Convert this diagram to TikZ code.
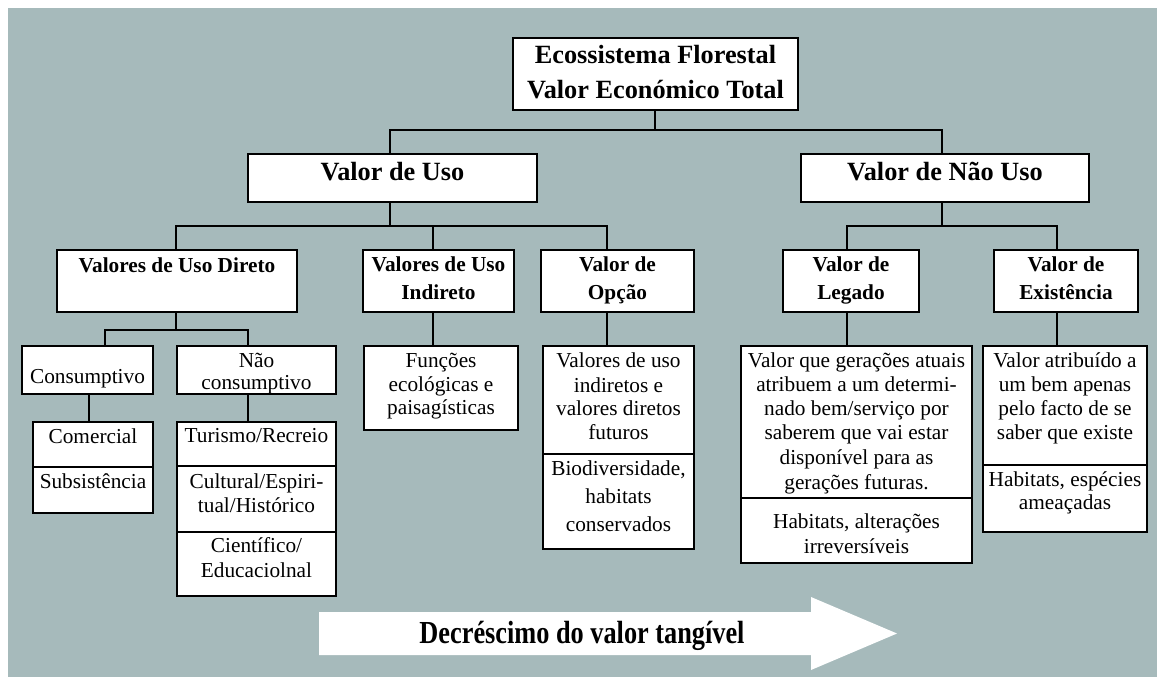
\documentclass[tikz,border=0pt]{standalone}
\usepackage{fontspec}
\setmainfont{Liberation Serif}
\definecolor{panel}{RGB}{166,186,187}
\tikzset{
  box/.style={draw=black, fill=white, line width=1.8pt, inner sep=0pt},
  wire/.style={draw=black, line width=1.8pt},
  big/.style={font=\fontsize{26.3}{30}\selectfont\bfseries, anchor=base, inner sep=0pt},
  head/.style={font=\fontsize{21.3}{24}\selectfont\bfseries, anchor=base, inner sep=0pt},
  txt/.style={font=\fontsize{21.3}{24}\selectfont, anchor=base, inner sep=0pt},
}
% box from its left/top and right/bottom edges
\newcommand\cell[5]{\node[box, minimum width={#4-#2}, minimum height={#5-#3}] (#1) at ({(#2+#4)/2},{(#3+#5)/2}) {};}
% one line of text: name, centre x, baseline y, style, text
\newcommand\lin[5]{\node[#4] (#1) at (#2,#3) {#5};}
\begin{document}
\begin{tikzpicture}[x=1pt, y=-1pt]
\useasboundingbox (0,0) rectangle (1157,677);
\fill[white] (0,0) rectangle (1157,677);
\fill[panel] (8,8) rectangle (1157,677);

% ---- boxes ----
\cell{top}{513}{38}{798}{110}
\cell{uso}{248}{154}{537}{202}
\cell{nuso}{801}{154}{1089}{202}
\cell{dir}{57}{250}{297}{312}
\cell{ind}{363}{250}{514}{312}
\cell{opc}{541}{250}{694}{312}
\cell{leg}{783}{250}{919}{312}
\cell{exi}{994}{250}{1138}{312}
\cell{cons}{22}{346}{153}{394}
\cell{ncons}{177}{346}{336}{394}
\cell{com}{33}{422}{153}{467}
\cell{sub}{33}{467}{153}{513}
\cell{tur}{177}{422}{336}{466}
\cell{cul}{177}{466}{336}{532}
\cell{cie}{177}{532}{336}{596}
\cell{fun}{364}{346}{518}{430}
\cell{opcA}{543}{346}{694}{454}
\cell{opcB}{543}{454}{694}{549}
\cell{legA}{741}{346}{972}{498}
\cell{legB}{741}{498}{972}{563}
\cell{exiA}{983}{346}{1147}{465}
\cell{exiB}{983}{465}{1147}{532}

% ---- connector columns and rails ----
\coordinate (yA) at (0,130);
\coordinate (yB) at (0,226);
\coordinate (yC) at (0,330);
\coordinate (xTop) at (655,0);
\coordinate (xUso) at (390,0);
\coordinate (xNuso) at (942,0);
\coordinate (xDir) at (176,0);
\coordinate (xInd) at (433,0);
\coordinate (xOpc) at (607,0);
\coordinate (xLeg) at (847,0);
\coordinate (xExi) at (1057,0);
\coordinate (xCons) at (105,0);
\coordinate (xNcons) at (248,0);
\coordinate (xCom) at (89,0);

% top level
\draw[wire] (top.south -| xTop) -- (xTop |- yA);
\draw[wire] (uso.north -| xUso) -- (xUso |- yA) -- (xNuso |- yA) -- (nuso.north -| xNuso);
% use values
\draw[wire] (uso.south -| xUso) -- (xUso |- yB);
\draw[wire] (dir.north -| xDir) -- (xDir |- yB) -- (xOpc |- yB) -- (opc.north -| xOpc);
\draw[wire] (ind.north -| xInd) -- (xInd |- yB);
% non-use values
\draw[wire] (nuso.south -| xNuso) -- (xNuso |- yB);
\draw[wire] (leg.north -| xLeg) -- (xLeg |- yB) -- (xExi |- yB) -- (exi.north -| xExi);
% direct use split
\draw[wire] (dir.south -| xDir) -- (xDir |- yC);
\draw[wire] (cons.north -| xCons) -- (xCons |- yC) -- (xNcons |- yC) -- (ncons.north -| xNcons);
\draw[wire] (cons.south -| xCom) -- (com.north -| xCom);
\draw[wire] (ncons.south -| xNcons) -- (tur.north -| xNcons);
% single children
\draw[wire] (ind.south -| xInd) -- (fun.north -| xInd);
\draw[wire] (opc.south -| xOpc) -- (opcA.north -| xOpc);
\draw[wire] (leg.south -| xLeg) -- (legA.north -| xLeg);
\draw[wire] (exi.south -| xExi) -- (exiA.north -| xExi);

% ---- texts ----
\lin{t1}{655.5}{64}{big}{Ecossistema Florestal}
\lin{t2}{655.5}{99}{big}{Valor Económico Total}
\lin{t3}{392.5}{180}{big}{Valor de Uso}
\lin{t4}{945}{180}{big}{Valor de Não Uso}

\lin{h1}{177}{272}{head}{Valores de Uso Direto}
\lin{h2}{438.5}{271}{head}{Valores de Uso}
\lin{h3}{438.5}{299}{head}{Indireto}
\lin{h4}{617.5}{271}{head}{Valor de}
\lin{h5}{617.5}{299}{head}{Opção}
\lin{h6}{851}{271}{head}{Valor de}
\lin{h7}{851}{299}{head}{Legado}
\lin{h8}{1066}{271}{head}{Valor de}
\lin{h9}{1066}{299}{head}{Existência}

\lin{c1}{87.5}{383}{txt}{Consumptivo}
\lin{c2}{256.5}{367}{txt}{Não}
\lin{c3}{256.5}{389}{txt}{consumptivo}
\lin{c4}{93}{443}{txt}{Comercial}
\lin{c5}{93}{488}{txt}{Subsistência}
\lin{c6}{256.5}{442}{txt}{Turismo/Recreio}
\lin{c7}{256.5}{488}{txt}{Cultural/Espiri-}
\lin{c8}{256.5}{512}{txt}{tual/Histórico}
\lin{c9}{256.5}{552}{txt}{Científico/}
\lin{c10}{256.5}{577}{txt}{Educaciolnal}

\lin{f1}{441}{367}{txt}{Funções}
\lin{f2}{441}{391}{txt}{ecológicas e}
\lin{f3}{441}{414}{txt}{paisagísticas}

\lin{o1}{618.5}{367}{txt}{Valores de uso}
\lin{o2}{618.5}{392}{txt}{indiretos e}
\lin{o3}{618.5}{415}{txt}{valores diretos}
\lin{o4}{618.5}{439}{txt}{futuros}
\lin{o5}{618.5}{475}{txt}{Biodiversidade,}
\lin{o6}{618.5}{503}{txt}{habitats}
\lin{o7}{618.5}{531}{txt}{conservados}

\lin{l1}{856.5}{367}{txt}{Valor que gerações atuais}
\lin{l2}{856.5}{391}{txt}{atribuem a um determi-}
\lin{l3}{856.5}{415}{txt}{nado bem/serviço por}
\lin{l4}{856.5}{439}{txt}{saberem que vai estar}
\lin{l5}{856.5}{464}{txt}{disponível para as}
\lin{l6}{856.5}{489}{txt}{gerações futuras.}
\lin{l7}{856.5}{528}{txt}{Habitats, alterações}
\lin{l8}{856.5}{553}{txt}{irreversíveis}

\lin{e1}{1065}{367}{txt}{Valor atribuído a}
\lin{e2}{1065}{391}{txt}{um bem apenas}
\lin{e3}{1065}{415}{txt}{pelo facto de se}
\lin{e4}{1065}{439}{txt}{saber que existe}
\lin{e5}{1065}{486}{txt}{Habitats, espécies}
\lin{e6}{1065}{509}{txt}{ameaçadas}

% ---- trend arrow ----
\fill[white] (319,612) -- (811,612) -- (811,597) -- (897,633.5) -- (811,670) -- (811,655) -- (319,655) -- cycle;
\lin{trend}{582}{643}{big}{\scalebox{1}[1.22]{Decréscimo do valor tangível}}
\end{tikzpicture}
\end{document}
